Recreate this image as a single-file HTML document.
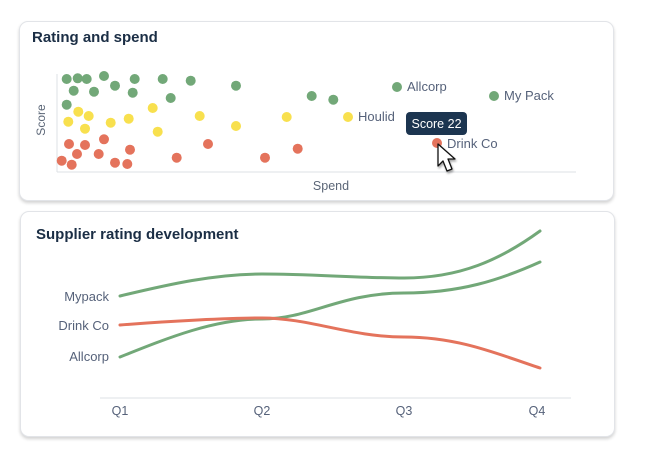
<!DOCTYPE html>
<html><head><style>
body{margin:0;width:670px;height:456px;background:#fff;font-family:"Liberation Sans",sans-serif;overflow:hidden}
.card{position:absolute;background:#fff;border:1px solid #e2e4e8;border-radius:9px;box-shadow:0 2px 3px rgba(0,0,0,0.18)}
.t{position:absolute;font-weight:bold;font-size:15px;color:#1b2e45}
</style></head><body>
<div class="card" style="left:19px;top:21px;width:593px;height:178px"></div>
<div class="card" style="left:20px;top:211px;width:593px;height:224px"></div>
<div class="t" style="left:32px;top:29px">Rating and spend</div>
<div class="t" style="left:36px;top:226px">Supplier rating development</div>
<svg width="670" height="456" style="position:absolute;left:0;top:0" font-family="Liberation Sans, sans-serif">
<line x1="57" y1="74" x2="57" y2="172" stroke="#dde0e4"/>
<line x1="57" y1="172" x2="576" y2="172" stroke="#dde0e4"/>
<text x="45" y="120" font-size="12" fill="#5b6677" transform="rotate(-90 45 120)" text-anchor="middle">Score</text>
<text x="331" y="190" font-size="12.5" fill="#5b6677" text-anchor="middle">Spend</text>
<g fill="#72a878">
<circle cx="66.7" cy="79" r="5"/><circle cx="77.7" cy="78.3" r="5"/><circle cx="86.7" cy="79" r="5"/><circle cx="104" cy="76" r="5"/><circle cx="134.7" cy="79" r="5"/><circle cx="162.7" cy="79" r="5"/><circle cx="190.7" cy="80.7" r="5"/><circle cx="236" cy="85.7" r="5"/><circle cx="73.7" cy="90.7" r="5"/><circle cx="94" cy="91.7" r="5"/><circle cx="115" cy="85.7" r="5"/><circle cx="132.7" cy="92.7" r="5"/><circle cx="170.7" cy="98" r="5"/><circle cx="66.7" cy="104.7" r="5"/><circle cx="311.7" cy="96" r="5"/><circle cx="333.3" cy="99.7" r="5"/><circle cx="397" cy="87" r="5"/><circle cx="494" cy="96" r="5"/>
</g>
<g fill="#f8e04e">
<circle cx="78.3" cy="111.7" r="5"/><circle cx="88.7" cy="116" r="5"/><circle cx="68.3" cy="121.7" r="5"/><circle cx="85" cy="128.7" r="5"/><circle cx="110.7" cy="122.7" r="5"/><circle cx="128.7" cy="118.7" r="5"/><circle cx="152.7" cy="108" r="5"/><circle cx="157.7" cy="131.7" r="5"/><circle cx="199.7" cy="116" r="5"/><circle cx="236" cy="126" r="5"/><circle cx="286.7" cy="117" r="5"/><circle cx="348" cy="117" r="5"/>
</g>
<g fill="#e4735c">
<circle cx="69" cy="144" r="5"/><circle cx="85" cy="145" r="5"/><circle cx="104" cy="139.3" r="5"/><circle cx="77" cy="154" r="5"/><circle cx="98.7" cy="154" r="5"/><circle cx="130" cy="149.7" r="5"/><circle cx="61.7" cy="160.7" r="5"/><circle cx="71.7" cy="164.7" r="5"/><circle cx="115" cy="162.7" r="5"/><circle cx="127.3" cy="164" r="5"/><circle cx="176.7" cy="157.7" r="5"/><circle cx="208" cy="144" r="5"/><circle cx="265" cy="157.7" r="5"/><circle cx="297.7" cy="148.7" r="5"/><circle cx="437" cy="143" r="5"/>
</g>
<g font-size="13" fill="#56627a">
<text x="407" y="91">Allcorp</text><text x="504" y="100">My Pack</text><text x="358" y="121">Houlid</text><text x="447" y="148">Drink Co</text>
</g>
<rect x="406" y="112" width="61" height="23" rx="4" fill="#1c3550"/>
<text x="436.5" y="128" font-size="12.5" fill="#fff" text-anchor="middle">Score 22</text>
<path d="M438,144 L438,166 L443,161 L447,171 L452,169 L448,159 L455,159 Z" fill="#fff" stroke="#111" stroke-width="1.3" stroke-linejoin="round" style="filter:drop-shadow(1px 2px 1px rgba(0,0,0,0.35))"/>
<line x1="100" y1="398" x2="571" y2="398" stroke="#dde0e4"/>
<g font-size="12.5" fill="#56627a" text-anchor="middle">
<text x="120" y="415">Q1</text><text x="262" y="415">Q2</text><text x="404" y="415">Q3</text><text x="537" y="415">Q4</text>
</g>
<g font-size="13" fill="#56627a" text-anchor="end">
<text x="109" y="301">Mypack</text><text x="109" y="330">Drink Co</text><text x="109" y="361">Allcorp</text>
</g>
<g fill="none" stroke-width="3" stroke-linecap="round">
<path d="M120,296 C170,284 215,274 262,274 C310,274 360,278 404,278 C460,278 500,260 540,231" stroke="#72a878"/>
<path d="M120,357 C170,337 215,319 262,319 C310,319 340,293 404,293 C460,293 500,280 540,262" stroke="#72a878"/>
<path d="M120,325 C170,321 230,318 262,318 C310,318 350,337 404,337 C460,337 500,355 540,368" stroke="#e4735c"/>
</g>
</svg>
</body></html>
